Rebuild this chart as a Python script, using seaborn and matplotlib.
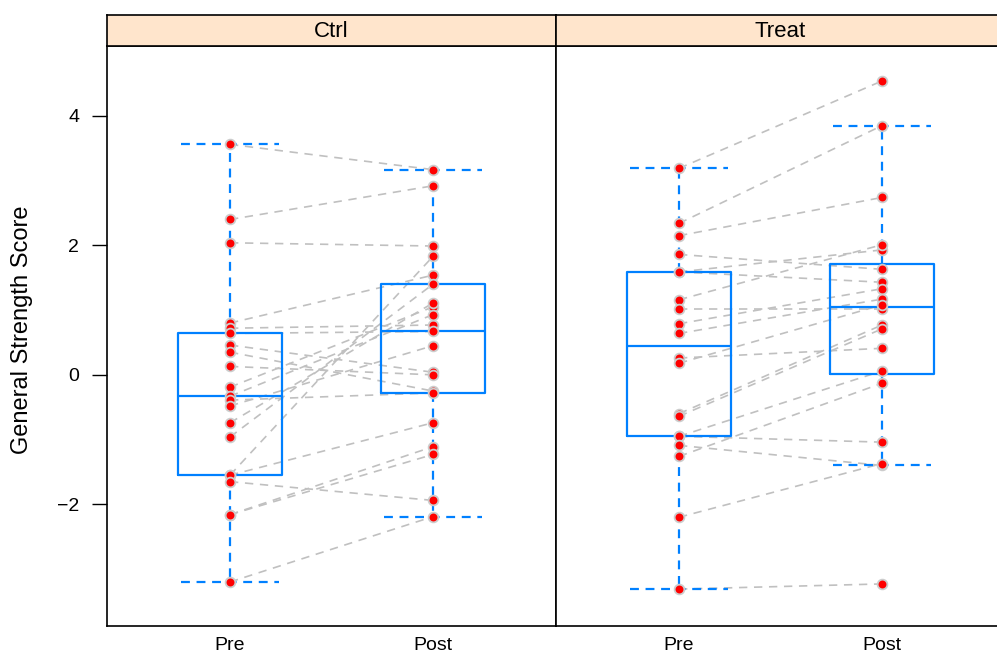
import numpy as np
import matplotlib.pyplot as plt
import seaborn as sns
import pandas as pd

# paired scores (pre[i] -> post[i] is one subject)
ctrl_pre = [3.56, 2.40, 2.04, 0.80, 0.72, 0.64, 0.46, 0.35, 0.13, -0.19, -0.33,
            -0.39, -0.48, -0.74, -0.96, -1.55, -1.55, -1.65, -2.16, -2.16, -3.20]
ctrl_post = [3.17, 2.92, 1.99, 1.54, 0.77, 0.67, 0.04, -0.25, 0.00, 1.05, 0.93,
             -0.28, 0.45, 1.11, 1.40, 1.83, -0.74, -1.94, -1.11, -1.23, -2.19]
treat_pre = [3.19, 2.34, 2.15, 1.86, 1.59, 1.59, 1.16, 1.01, 0.79, 0.64,
             0.26, 0.18, -0.60, -0.64, -0.95, -0.95, -1.09, -1.26, -2.20, -3.31]
treat_post = [4.54, 3.85, 2.74, 1.63, 1.93, 1.43, 2.01, 1.01, 1.33, 1.17,
              0.41, 1.08, 0.77, 0.71, 0.06, -1.04, -1.40, -0.13, -1.37, -3.23]
GROUPS = ["Ctrl", "Treat"]
TIMES = ["Pre", "Post"]
YTICKS = [-2, 0, 2, 4]

BOXCOL = "#0080FF"
STRIPCOL = "#FFE5CC"
LABELSIZE = 17
STRIPSIZE = 16
TICKSIZE = 14

#%%
rows = []
for g, pre, post in [("Ctrl", ctrl_pre, ctrl_post), ("Treat", treat_pre, treat_post)]:
    for i, (a, b) in enumerate(zip(pre, post)):
        rows.append({"group": g, "id": f"{g}{i}", "time": "Pre", "score": a})
        rows.append({"group": g, "id": f"{g}{i}", "time": "Post", "score": b})
df = pd.DataFrame(rows)

#%%
sns.set_style("white")
plt.rcParams["font.family"] = ["Liberation Sans", "DejaVu Sans"]
plt.rcParams["text.color"] = "black"
plt.rcParams["xtick.color"] = "black"
plt.rcParams["ytick.color"] = "black"
plt.rcParams["axes.labelcolor"] = "black"

fig = plt.figure(figsize=(9.97, 6.53), dpi=100)
W, H = 997, 653
left, pw = 107, 449
top, bottom, strip_h = 46, 626, 31

for k, g in enumerate(GROUPS):
    x0 = left + k * pw
    ax = fig.add_axes([x0 / W, 1 - bottom / H, pw / W, (bottom - top) / H])
    sax = fig.add_axes([x0 / W, 1 - top / H, pw / W, strip_h / H])
    sub = df[df.group == g]

    sns.lineplot(data=sub, x="time", y="score", units="id", estimator=None,
                 sort=False, color="#C0C0C0", linewidth=1.2, dashes=False,
                 linestyle=(0, (5, 4)), ax=ax, zorder=1, legend=False)
    sns.boxplot(data=sub, x="time", y="score", order=TIMES, fill=False,
                color=BOXCOL, linecolor=BOXCOL, width=0.51, linewidth=1.6,
                showfliers=False, capwidths=0.48,
                whiskerprops={"linestyle": (0, (4, 3))},
                capprops={"linestyle": (0, (4, 3))},
                ax=ax, zorder=2)
    sns.stripplot(data=sub, x="time", y="score", order=TIMES, jitter=False,
                  color="red", edgecolor="#CCCCCC", linewidth=1.3, size=7,
                  ax=ax, zorder=3)

    ax.set_xlim(-0.606, 1.606)
    ax.set_ylim(-3.88, 5.08)
    ax.set_xlabel("")
    ax.tick_params(axis="x", length=0, pad=8, labelsize=TICKSIZE)
    if k == 0:
        ax.set_yticks(YTICKS)
        ax.set_yticklabels(["\u22122", "0", "2", "4"], fontsize=TICKSIZE)
        ax.tick_params(axis="y", left=True, length=11, width=1, pad=9, color="black")
        ax.set_ylabel("General Strength Score", fontsize=LABELSIZE)
        ax.yaxis.set_label_coords(-0.165, 0.51)
    else:
        ax.set_yticks([])
        ax.set_ylabel("")
    for sp in ax.spines.values():
        sp.set_color("black")
        sp.set_linewidth(1.2)

    sax.set_facecolor(STRIPCOL)
    sax.set_xticks([])
    sax.set_yticks([])
    for sp in sax.spines.values():
        sp.set_color("black")
        sp.set_linewidth(1.2)
    sax.text(0.5, 0.47, g, ha="center", va="center", fontsize=STRIPSIZE,
             transform=sax.transAxes)

plt.savefig("out.png", dpi=100)
